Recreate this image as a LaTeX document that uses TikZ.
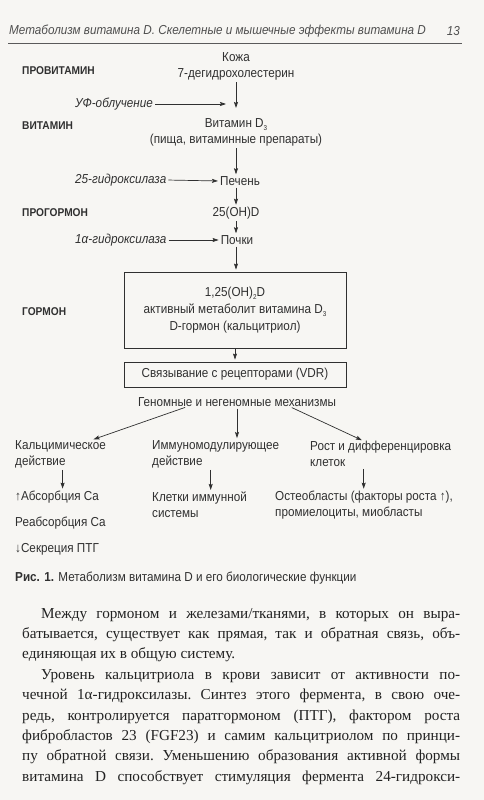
\documentclass[tikz,border=0pt]{standalone}
\usepackage{fontspec}
\setmainfont{Liberation Serif}
\newfontfamily\condsans[FakeStretch=0.9]{Liberation Sans}
\usetikzlibrary{arrows.meta,positioning,calc}

\definecolor{paper}{RGB}{247,246,243}
\definecolor{ink}{RGB}{48,48,48}
\definecolor{bodyink}{RGB}{34,34,34}
\newcommand{\lowidx}[1]{\raisebox{-0.5ex}{\scriptsize #1}}

\begin{document}
\begin{tikzpicture}[x=1pt, y=-1pt,
  lbl/.style={inner sep=0pt, text=ink, align=center, font=\condsans\fontsize{13}{16}\selectfont},
  stage/.style={inner sep=0pt, text=ink, anchor=west, font=\condsans\bfseries\fontsize{11.3}{16}\selectfont},
  enz/.style={inner sep=0pt, text=ink, anchor=west, font=\condsans\itshape\fontsize{13}{16}\selectfont},
  hdr/.style={inner sep=0pt, text=ink!85, font=\condsans\itshape\fontsize{13}{16}\selectfont},
  box/.style={draw=ink, line width=0.8pt, minimum width=222pt, inner sep=2pt, align=center, text=ink,
    font=\condsans\fontsize{13}{17}\selectfont},
  arr/.style={-{Stealth[length=6pt, width=4pt, inset=1pt]}, line width=0.7pt, draw=ink, shorten >=2pt, shorten <=2pt},
  para/.style={inner sep=0pt, text width=438pt, align=justify, text=bodyink,
    font={\fontsize{15.2}{20.4}\selectfont\frenchspacing\hyphenpenalty=10000 \exhyphenpenalty=10000 }}
]

\fill[paper] (0,0) rectangle (484,800);
\useasboundingbox (0,0) rectangle (484,800);

% running head
\node[hdr, anchor=west] (head) at (9,31) {Метаболизм витамина D. Скелетные и мышечные эффекты витамина D};
\node[hdr, anchor=east] (pageno) at (460,31) {13};
\draw[ink!80, line width=0.6pt] (8,43) -- (462,43);

% stages
\node[stage] (provit) at (22,71) {ПРОВИТАМИН};
\node[stage] (vitamin) at (22,126) {ВИТАМИН};
\node[stage] (prohorm) at (22,213) {ПРОГОРМОН};
\node[stage] (hormone) at (22,312) {ГОРМОН};

% main chain
\node[lbl] (skin) at (236,66) {Кожа\\7-дегидрохолестерин};
\node[lbl] (vitd) at (236,132) {Витамин D\lowidx{3}\\(пища, витаминные препараты)};
\node[lbl] (liver) at (240,181) {Печень};
\node[lbl] (calcid) at (236,213) {25(OH)D};
\node[lbl] (kidney) at (237,240) {Почки};
\node[box, minimum height=76pt] (horm) at (235,310)
  {1,25(OH)\lowidx{2}D\\активный метаболит витамина D\lowidx{3}\\D-гормон (кальцитриол)};
\node[box, minimum height=25pt] (vdr) at (235,374.5) {Связывание с рецепторами (VDR)};
\node[lbl] (mech) at (237,402) {Геномные и негеномные механизмы};

% enzymes
\node[enz] (uv) at (75,104) {УФ-облучение};
\node[enz] (hyd25) at (75,180) {25-гидроксилаза};
\node[enz] (hyd1a) at (75,240) {1α-гидроксилаза};

\draw[arr, shorten >=10pt] (skin.south) -- (vitd.north);
\draw[arr] (vitd.south) -- (vitd.south |- liver.north);
\draw[arr] (vitd.south |- liver.south) -- (vitd.south |- calcid.north);
\draw[arr] (calcid.south) -- (calcid.south |- kidney.north);
\draw[arr] (calcid.south |- kidney.south) -- (calcid.south |- horm.north);
\draw[arr, shorten <=0pt] (horm.south) -- (vdr.north);

\draw[arr] (uv.east) -- ([xshift=-8pt]skin.south |- uv.east);
\draw[arr] (hyd25.east) -- (liver.west);
\draw[arr] (hyd1a.east) -- (kidney.west);

% effects
\node[lbl, anchor=west, align=left] (calc) at (15,454) {Кальцимическое\\действие};
\node[lbl, anchor=west, align=left] (immun) at (152,454) {Иммуномодулирующее\\действие};
\node[lbl, anchor=west, align=left] (growth) at (310,454) {Рост и дифференцировка\\клеток};

\draw[arr] ([xshift=-50pt]mech.south) -- ([xshift=31pt]calc.north);
\draw[arr] (mech.south) -- (mech.south |- immun.north);
\draw[arr] ([xshift=53pt]mech.south) -- ([xshift=-17pt]growth.north);

\node[lbl, anchor=west] (absorb) at (15,497) {↑Абсорбция Ca};
\node[lbl, anchor=west] (reabs) at (15,523) {Реабсорбция Ca};
\node[lbl, anchor=west] (pth) at (15,549) {↓Секреция ПТГ};
\node[lbl, anchor=west, align=left] (cells) at (152,505) {Клетки иммунной\\системы};
\node[lbl, anchor=west, align=left] (osteo) at (275,505) {Остеобласты (факторы роста ↑),\\промиелоциты, миобласты};

\draw[arr] ([xshift=2pt]calc.south) -- ([xshift=2pt]calc.south |- absorb.north);
\draw[arr] ([xshift=-5pt]immun.south) -- ([xshift=-5pt]immun.south |- cells.north);
\draw[arr] ([xshift=-17pt]growth.south) -- ([xshift=-17pt]growth.south |- osteo.north);

% caption
\node[lbl, anchor=west] (caption) at (15,578) {\textbf{Рис. 1.} Метаболизм витамина D и его биологические функции};

% body text
\node[para, anchor=base west] (par1) at (22,618)
  {\hspace*{19pt}Между гормоном и железами/тканями, в которых он выра-\linebreak
   батывается, существует как прямая, так и обратная связь, объ-\linebreak
   единяющая их в общую систему.};
\node[para, anchor=base west] (par2) at (22,679.2)
  {\hspace*{19pt}Уровень кальцитриола в крови зависит от активности по-\linebreak
   чечной 1α-гидроксилазы. Синтез этого фермента, в свою оче-\linebreak
   редь, контролируется паратгормоном (ПТГ), фактором роста\linebreak
   фибробластов 23 (FGF23) и самим кальцитриолом по принци-\linebreak
   пу обратной связи. Уменьшению образования активной формы\linebreak
   витамина D способствует стимуляция фермента 24-гидрокси-\linebreak};

\end{tikzpicture}
\end{document}
